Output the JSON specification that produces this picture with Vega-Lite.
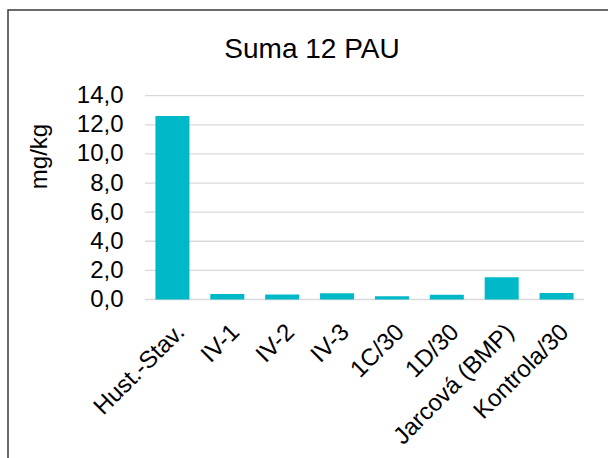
{
  "$schema": "https://vega.github.io/schema/vega-lite/v6.json",
  "width": 600,
  "height": 448,
  "autosize": {"type": "none"},
  "padding": {"left": 8, "top": 10, "right": 0, "bottom": 0},
  "background": "white",
  "title": {
    "text": "Suma 12 PAU",
    "fontSize": 28,
    "fontWeight": "normal",
    "font": "Liberation Sans",
    "color": "#000000",
    "anchor": "middle",
    "frame": "group",
    "baseline": "alphabetic",
    "offset": -75.7,
    "dx": 4
  },
  "config": {
    "font": "Liberation Sans",
    "view": {"stroke": "#3a3a3a", "strokeWidth": 1.5, "strokeDash": [600, 1048, 448]}
  },
  "encoding": {
    "y": {
      "field": "v",
      "type": "quantitative",
      "scale": {"domain": [-10.888, 19.887], "nice": false, "zero": false},
      "axis": {
        "values": [0, 2, 4, 6, 8, 10, 12, 14],
        "labelExpr": "replace(format(datum.value, '.1f'), '.', ',')",
        "offset": -115,
        "labelPadding": 0,
        "ticks": false,
        "domain": false,
        "grid": false,
        "labelFontSize": 24,
        "labelColor": "#000000",
        "title": "mg/kg",
        "titleFontSize": 24,
        "titleFontWeight": "normal",
        "titleColor": "#000000",
        "titleX": -84,
        "titleY": 146,
        "titleAngle": -90,
        "titleAlign": "center",
        "titleBaseline": "middle"
      }
    }
  },
  "layer": [
    {
      "data": {"values": [{"v": 0}, {"v": 2}, {"v": 4}, {"v": 6}, {"v": 8}, {"v": 10}, {"v": 12}, {"v": 14}]},
      "mark": {"type": "rule", "color": "#d9d9d9", "strokeWidth": 1.3},
      "encoding": {
        "x": {"datum": "Hust.-Stav.", "type": "nominal", "bandPosition": -0.307},
        "x2": {"datum": "Kontrola/30", "bandPosition": 1.307}
      }
    },
    {
      "data": {"values": [
        {"cat": "Hust.-Stav.", "v": 12.6},
        {"cat": "IV-1", "v": 0.38},
        {"cat": "IV-2", "v": 0.35},
        {"cat": "IV-3", "v": 0.43},
        {"cat": "1C/30", "v": 0.23},
        {"cat": "1D/30", "v": 0.32},
        {"cat": "Jarcová (BMP)", "v": 1.53},
        {"cat": "Kontrola/30", "v": 0.44}
      ]},
      "mark": {"type": "bar", "color": "#00b9c8"},
      "encoding": {
        "x": {
          "field": "cat",
          "type": "nominal",
          "sort": null,
          "scale": {
            "domain": ["Hust.-Stav.", "IV-1", "IV-2", "IV-3", "1C/30", "1D/30", "Jarcová (BMP)", "Kontrola/30"],
            "range": [137, 576],
            "paddingInner": 0.38,
            "paddingOuter": 0.19,
            "round": false
          },
          "axis": {
            "title": null,
            "offset": -158.5,
            "domain": false,
            "ticks": false,
            "grid": false,
            "labelAngle": -45,
            "labelAlign": "right",
            "labelBaseline": "top",
            "labelPadding": 20,
            "labelFontSize": 24,
            "labelColor": "#000000",
            "labelLimit": 400,
            "labelOverlap": false
          }
        },
        "y2": {"datum": 0}
      }
    }
  ]
}
